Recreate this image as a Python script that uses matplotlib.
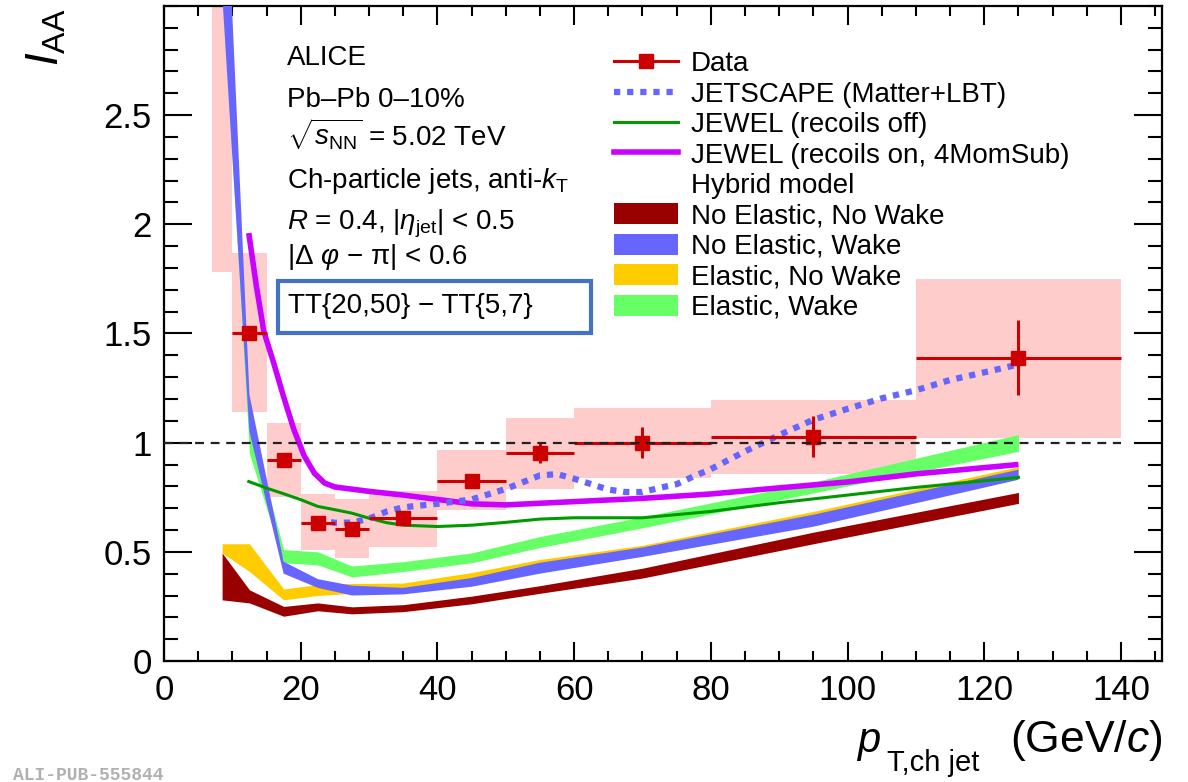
import matplotlib
matplotlib.use("Agg")
import matplotlib.pyplot as plt
from matplotlib.patches import Rectangle, Patch
from matplotlib.lines import Line2D
from matplotlib.ticker import FixedLocator, MultipleLocator
import numpy as np

plt.rcParams['font.family'] = ['Liberation Sans', 'DejaVu Sans']
plt.rcParams['mathtext.fontset'] = 'custom'
plt.rcParams['mathtext.rm'] = 'Liberation Sans'
plt.rcParams['mathtext.it'] = 'Liberation Sans:italic'
plt.rcParams['mathtext.bf'] = 'Liberation Sans:bold'
plt.rcParams['mathtext.sf'] = 'Liberation Sans'

# ---------------- data ----------------
bin_lo = [7, 10, 15, 20, 25, 30, 40, 50, 60, 80, 110]
bin_hi = [10, 15, 20, 25, 30, 40, 50, 60, 80, 110, 140]
iaa = [3.5, 1.50, 0.92, 0.633, 0.605, 0.655, 0.826, 0.952, 1.0, 1.028, 1.39]
iaa_stat = [0.10, 0.03, 0.02, 0.025, 0.025, 0.025, 0.03, 0.045, 0.07, 0.095, 0.17]
syst_low = [1.78, 1.14, 0.75, 0.51, 0.47, 0.52, 0.69, 0.79, 0.84, 0.857, 1.02]
syst_high = [5.2, 1.87, 1.09, 0.766, 0.74, 0.78, 0.966, 1.115, 1.16, 1.197, 1.75]

jetscape_x = [22.5, 25, 27.5, 30, 32.5, 35, 40, 45, 50, 55, 57.5, 60, 62.5, 65,
              67.5, 70, 72.5, 75, 77.5, 80, 85, 90, 95, 100, 105, 110, 115, 120, 125]
jetscape_y = [0.644, 0.633, 0.634, 0.652, 0.684, 0.704, 0.72, 0.74, 0.788, 0.85,
              0.856, 0.835, 0.81, 0.785, 0.774, 0.774, 0.793, 0.81, 0.846, 0.879,
              0.96, 1.035, 1.105, 1.155, 1.203, 1.24, 1.287, 1.322, 1.358]

jewel_off_x = [12.4, 15, 17.5, 20, 22.5, 25, 27.5, 30, 32.5, 35, 40, 45, 50, 55,
               60, 70, 80, 90, 100, 110, 125]
jewel_off_y = [0.822, 0.792, 0.766, 0.739, 0.708, 0.693, 0.677, 0.654, 0.634,
               0.622, 0.616, 0.622, 0.635, 0.65, 0.656, 0.656, 0.685, 0.725,
               0.76, 0.795, 0.841]

jewel_on_x = [12.4, 13.5, 14.6, 16, 17.5, 19, 20.5, 22, 23.5, 25, 30, 35, 40,
              45, 50, 60, 70, 80, 90, 100, 110, 125]
jewel_on_y = [1.96, 1.72, 1.51, 1.37, 1.21, 1.06, 0.94, 0.86, 0.815, 0.797,
              0.777, 0.76, 0.74, 0.72, 0.715, 0.73, 0.745, 0.765, 0.793, 0.82,
              0.857, 0.9]

hybrid_x = [8.5, 12.5, 17.5, 22.5, 27.5, 35, 45, 55, 70, 95, 125]
nenw_low = [0.28, 0.266, 0.205, 0.23, 0.216, 0.226, 0.262, 0.31, 0.38, 0.537, 0.722]
nenw_high = [0.495, 0.326, 0.25, 0.266, 0.248, 0.258, 0.297, 0.345, 0.425, 0.59, 0.772]
new_low = [3.06, 1.05, 0.40, 0.335, 0.30, 0.305, 0.34, 0.40, 0.477, 0.615, 0.83]
new_high = [4.0, 1.22, 0.455, 0.375, 0.345, 0.335, 0.38, 0.45, 0.52, 0.67, 0.876]
enw_low = [0.495, 0.41, 0.28, 0.30, 0.31, 0.315, 0.35, 0.41, 0.48, 0.625, 0.84]
enw_high = [0.537, 0.537, 0.33, 0.35, 0.355, 0.357, 0.405, 0.465, 0.53, 0.685, 0.89]
ew_low = [3.1, 0.95, 0.45, 0.44, 0.385, 0.41, 0.45, 0.52, 0.61, 0.77, 0.96]
ew_high = [3.6, 1.1, 0.51, 0.50, 0.435, 0.455, 0.495, 0.57, 0.66, 0.82, 1.037]

x_ticks = [0, 20, 40, 60, 80, 100, 120, 140]
x_ticklabels = ['0', '20', '40', '60', '80', '100', '120', '140']
y_ticks = [0, 0.5, 1, 1.5, 2, 2.5]
y_ticklabels = ['0', '0.5', '1', '1.5', '2', '2.5']

# ---------------- figure ----------------
W, H = 1188, 782
fig = plt.figure(figsize=(W / 100, H / 100), dpi=100)
ax = fig.add_axes([164 / W, 1 - 661 / H, (1162 - 164) / W, (661 - 6) / H])
ax.set_xlim(0, 146)
ax.set_ylim(0, 3.0)

def fx(px):
    return px / W

def fy(py):
    return 1 - py / H

c_red = '#cc0000'
c_pink = '#ffcccc'
c_blue = '#6666ff'
c_dred = '#990000'
c_yel = '#ffcc00'
c_grn = '#66ff66'
c_jgrn = '#009900'
c_purp = '#cc00ff'

# systematic boxes
lo = np.array(bin_lo, float)
hi = np.array(bin_hi, float)
ax.bar(lo, np.array(syst_high) - np.array(syst_low), width=hi - lo,
       bottom=syst_low, align='edge', color=c_pink, lw=0, zorder=1)

# hybrid bands
ax.fill_between(hybrid_x, nenw_low, nenw_high, color=c_dred, lw=0, zorder=2)
ax.fill_between(hybrid_x, enw_low, enw_high, color=c_yel, lw=0, zorder=3)
ax.fill_between(hybrid_x, ew_low, ew_high, color=c_grn, lw=0, zorder=4)
ax.fill_between(hybrid_x, new_low, new_high, color=c_blue, lw=0, zorder=5)

# model curves
ax.plot(jewel_off_x, jewel_off_y, color=c_jgrn, lw=2.2, zorder=6)
ax.plot(jewel_on_x, jewel_on_y, color=c_purp, lw=4, zorder=7,
        solid_capstyle='butt', solid_joinstyle='round')
ax.plot(jetscape_x, jetscape_y, color=c_blue, lw=4.5, ls=(0, (1, 1.1)),
        dash_capstyle='butt', zorder=8)

# data
ctr = (lo + hi) / 2
ax.errorbar(ctr, iaa, xerr=(hi - lo) / 2, yerr=iaa_stat, fmt='s', color=c_red,
            ms=10.5, elinewidth=2.2, capsize=0, zorder=9)

# unity line
ax.plot([0, 140], [1, 1], color='#222222', lw=1.6, ls=(0, (4, 3)), zorder=10)

# axes styling
for s in ax.spines.values():
    s.set_linewidth(1.6)
ax.xaxis.set_major_locator(FixedLocator(x_ticks))
ax.set_xticklabels(x_ticklabels)
ax.xaxis.set_minor_locator(MultipleLocator(5))
ax.yaxis.set_major_locator(FixedLocator(y_ticks))
ax.set_yticklabels(y_ticklabels)
ax.yaxis.set_minor_locator(MultipleLocator(0.1))
ax.tick_params(axis='x', which='major', direction='in', length=14, width=1.5,
               top=True, bottom=True, labelsize=25, pad=9)
ax.tick_params(axis='x', which='minor', direction='in', length=7, width=1.5,
               top=True, bottom=True)
ax.tick_params(axis='y', which='major', direction='in', length=20, width=1.5,
               left=True, right=True, labelsize=25, pad=9)
ax.tick_params(axis='y', which='minor', direction='in', length=10, width=1.5,
               left=True, right=True)

# axis titles
fig.text(fx(857), fy(752), 'p', fontsize=30, style='italic', ha='left',
         va='baseline')
fig.text(fx(887), fy(771), 'T,ch jet', fontsize=21, ha='left', va='baseline')
fig.text(fx(1162), fy(752), '(GeV/$c$)', fontsize=32, ha='right',
         va='baseline')
fig.text(fx(46), fy(8), r'$I_{\mathrm{AA}}$', fontsize=33, rotation=90,
         ha='center', va='top')

# info text block
tx = fx(287)
fs = 20
fig.text(tx, fy(65), 'ALICE', fontsize=fs, va='baseline')
fig.text(tx, fy(107), 'Pb\u2013Pb 0\u201310%', fontsize=fs, va='baseline')
fig.text(tx, fy(145), r'$\sqrt{s_{\mathrm{NN}}}$ = 5.02 TeV', fontsize=fs,
         va='baseline')
fig.text(tx, fy(188), r'Ch-particle jets, anti-$k_{\mathrm{T}}$', fontsize=fs,
         va='baseline')
fig.text(tx, fy(229), r'$R$ = 0.4, |$\eta_{\mathrm{jet}}$| < 0.5',
         fontsize=fs, va='baseline')
fig.text(tx, fy(264), '|\u0394 $\\varphi$ \u2212 \u03c0| < 0.6', fontsize=fs,
         va='baseline')
fig.text(fx(288), fy(313), 'TT{20,50} \u2212 TT{5,7}', fontsize=fs,
         va='baseline')
fig.patches.append(Rectangle((fx(277.5), fy(332.5)), (590.5 - 277.5) / W,
                             (332.5 - 280.5) / H, transform=fig.transFigure,
                             fill=False, ec='#4472c4', lw=3))

# legend
handles = [
    Line2D([0], [0], color=c_red, lw=2.2, marker='s', ms=10.5),
    Line2D([0], [0], color=c_blue, lw=4.5, ls=(0, (1, 1.1)),
           dash_capstyle='butt'),
    Line2D([0], [0], color=c_jgrn, lw=2.2),
    Line2D([0], [0], color=c_purp, lw=4),
    Line2D([], [], ls='none'),
    Patch(fc=c_dred, ec='none'),
    Patch(fc=c_blue, ec='none'),
    Patch(fc=c_yel, ec='none'),
    Patch(fc=c_grn, ec='none'),
]
labels = ['Data', 'JETSCAPE (Matter+LBT)', 'JEWEL (recoils off)',
          'JEWEL (recoils on, 4MomSub)', 'Hybrid model',
          'No Elastic, No Wake', 'No Elastic, Wake', 'Elastic, No Wake',
          'Elastic, Wake']
ax.legend(handles, labels, loc='upper left', bbox_to_anchor=(fx(614), fy(51)),
          bbox_transform=fig.transFigure, frameon=False, fontsize=20,
          handlelength=2.3, handleheight=0.8, handletextpad=0.47,
          labelspacing=0.15, borderpad=0, borderaxespad=0, numpoints=1)

# watermark (partly cut at the bottom edge in the reference; kept inside here)
fig.text(fx(13), fy(767), 'ALI-PUB-555844', family='Liberation Mono',
         fontweight='bold', color='#b0b0b0', fontsize=13, ha='left', va='top')

fig.savefig('out.png', dpi=100)
